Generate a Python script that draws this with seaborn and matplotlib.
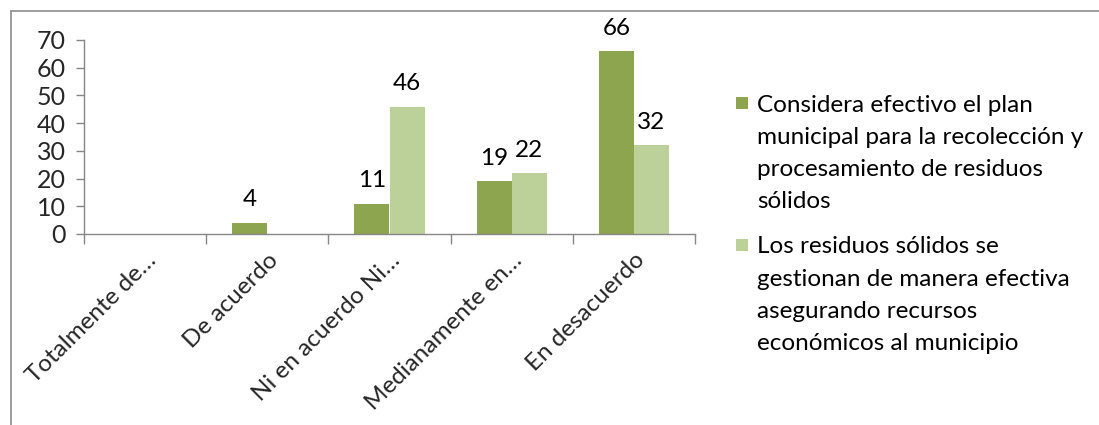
import numpy as np
import pandas as pd
import matplotlib
matplotlib.use("Agg")
import matplotlib.pyplot as plt
from matplotlib.lines import Line2D
from matplotlib.patches import Rectangle
import seaborn as sns

categories = ["Totalmente de…", "De acuerdo", "Ni en acuerdo Ni…", "Medianamente en…", "En desacuerdo"]
series_names = [
    "Considera efectivo el plan\nmunicipal para la recolección y\nprocesamiento de residuos\nsólidos",
    "Los residuos sólidos se\ngestionan de manera efectiva\nasegurando recursos\neconómicos al municipio",
]
values_plan = [np.nan, 4, 11, 19, 66]
values_gestion = [np.nan, np.nan, 46, 22, 32]
colors = ["#8CA54E", "#BCD09A"]

df = pd.DataFrame({
    "cat": categories * 2,
    "serie": [series_names[0]] * 5 + [series_names[1]] * 5,
    "val": values_plan + values_gestion,
})

sns.set_theme(style="white")
plt.rcParams["font.family"] = ["Lato", "DejaVu Sans"]
FS = 17.5
W, H = 1099, 425

fig = plt.figure(figsize=(10.99, 4.25), dpi=100)
ax = fig.add_axes([84 / W, 1 - 234 / H, (695 - 84) / W, (234 - 40) / H])

sns.barplot(data=df, x="cat", y="val", hue="serie", palette=colors, width=0.575,
            saturation=1, ax=ax, legend=False, order=categories, hue_order=series_names,
            linewidth=0, edgecolor="none")

for cont in ax.containers:
    labels = ["" if np.isnan(v) else f"{int(v)}" for v in cont.datavalues]
    ax.bar_label(cont, labels=labels, padding=9, fontsize=FS, color="black")

ax.set_ylim(0, 70)
ax.set_xlim(-0.5, 4.5)
ax.set_yticks(range(0, 71, 10))
ax.set_xlabel("")
ax.set_ylabel("")
ax.tick_params(axis="y", labelsize=FS + 0.5, length=6, width=1, color="#868686", direction="out", left=True, pad=7)
ax.set_xticks(range(5))
ax.set_xticklabels(categories, rotation=45, ha="right", rotation_mode="anchor", fontsize=FS)
ax.tick_params(axis="x", length=0, pad=11)
ax.set_xticks(np.arange(-0.5, 5.0, 1.0), minor=True)
ax.tick_params(axis="x", which="minor", length=7, width=1, color="#868686", direction="out", bottom=True)
for s in ["top", "right"]:
    ax.spines[s].set_visible(False)
for s in ["left", "bottom"]:
    ax.spines[s].set_color("#868686")
    ax.spines[s].set_linewidth(1)

# legend (drawn manually so the square sits on the first line, as in the original)
entry_top = [103, 245]
line_step = 32
for name, col, y0 in zip(series_names, colors, entry_top):
    fig.add_artist(Rectangle((736 / W, 1 - (y0 + 6) / H), 12 / W, 12 / H,
                             transform=fig.transFigure, facecolor=col, edgecolor="none"))
    for j, line in enumerate(name.split("\n")):
        fig.text(757 / W, 1 - (y0 + j * line_step) / H, line, fontsize=FS,
                 ha="left", va="center_baseline", color="black")

fig.add_artist(Line2D([11 / W, 1], [1 - 11 / H] * 2, transform=fig.transFigure, color="#8c8c8c", lw=1.2))
fig.add_artist(Line2D([11 / W] * 2, [0, 1 - 11 / H], transform=fig.transFigure, color="#8c8c8c", lw=1.2))

fig.savefig("out.png", dpi=100)
